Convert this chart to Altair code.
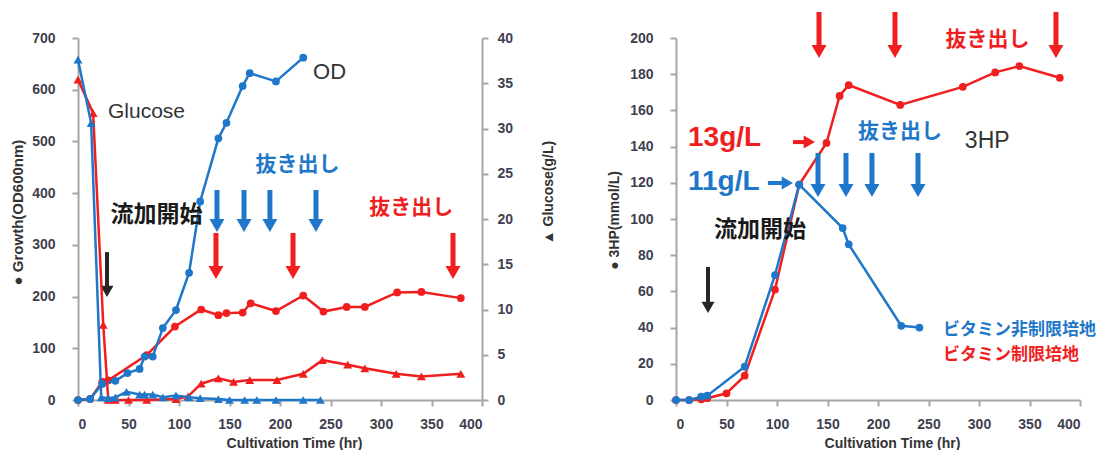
import altair as alt
import pandas as pd

# ---------------- data ----------------
# Left panel: growth (OD600nm), left axis
od_nonres_time = [0, 12, 24, 37, 49, 61, 66, 74, 84, 97, 110, 121, 139, 147, 163, 170, 196, 223]
od_nonres_val = [0, 2, 31, 37, 52, 60, 84, 84, 139, 174, 246, 384, 506, 536, 607, 632, 616, 662]
od_res_time = [0, 12, 24, 30, 68, 96, 122, 139, 147, 163, 171, 196, 223, 243, 266, 284, 316, 340, 379]
od_res_val = [0, 2, 35, 38, 87, 142, 175, 164, 168, 169, 187, 172, 202, 171, 180, 180, 208, 209, 197]
# Left panel: glucose (g/L), right axis
glc_nonres_time = [0, 13, 23, 30, 37, 48, 61, 66, 74, 84, 97, 110, 121, 139, 150, 165, 177, 196, 223, 240]
glc_nonres_val = [37.6, 30.6, 0.3, 0.2, 0.3, 0.9, 0.6, 0.6, 0.6, 0.3, 0.5, 0.3, 0.2, 0.1, 0, 0, 0, 0, 0, 0]
glc_res_time = [0, 15, 25, 30, 37, 50, 68, 97, 109, 122, 139, 154, 170, 197, 223, 242, 267, 284, 315, 340, 379]
glc_res_val = [35.4, 31.7, 8.3, 0, 0, 0, 0, 0.1, 0.4, 1.8, 2.4, 2.0, 2.2, 2.2, 2.9, 4.4, 3.9, 3.5, 2.9, 2.6, 2.9]
# Right panel: 3HP (mmol/L)
hp_nonres_time = [0, 13, 25, 31, 68, 98, 122, 165, 171, 223, 241]
hp_nonres_val = [0, 0, 1.8, 2.4, 18.4, 69, 119, 95, 86, 41, 40]
hp_res_time = [0, 13, 25, 31, 50, 68, 98, 122, 149, 162, 171, 222, 284, 316, 340, 380]
hp_res_val = [0, 0, 0.4, 1, 3.7, 13.4, 61, 119, 142, 168, 174, 163, 173, 181, 184.5, 178]

# ---------------- annotations (data units of each panel) ----------------
L_blue_arrow_t = [137.6, 164.4, 190.0, 235.6]
L_blue_arrow_top, L_blue_arrow_tip = 406, 325
L_red_arrow_t = [136.6, 212.9, 371.3]
L_red_arrow_top, L_red_arrow_tip = 323, 234
L_black_arrow_t = [28.7]
L_black_arrow_top, L_black_arrow_tip = 286, 199

R_red_arrow_t = [141.6, 216.8, 376.2]
R_red_arrow_top, R_red_arrow_tip = 214.4, 189
R_blue_arrow_t = [140.6, 168.3, 194.0, 239.6]
R_blue_arrow_top, R_blue_arrow_tip = 136.5, 112.2
R_black_arrow_t = [31.7]
R_black_arrow_top, R_black_arrow_tip = 73.5, 48
R_red_harrow = (115.8, 137.6, 142.5)
R_blue_harrow = (91.0, 115.8, 119.9)

FONT = "Liberation Sans"
JP = "Noto Sans CJK JP"
BLUE = "#1f77c9"
RED = "#f01e1e"
DARK = "#262626"
GRAY = "#a6a6a6"

PW, PH = 404, 362


def mk_axis(**kw):
    d = dict(grid=False, domainColor=GRAY, domainWidth=2, tickColor=GRAY, tickWidth=2, tickSize=6,
             labelFont=FONT, labelFontWeight="bold", labelFontSize=14, labelColor="#3f3f4f",
             titleFont=FONT, titleFontWeight="bold", titleColor="#333333",
             titleAlign="center", titleBaseline="middle")
    d.update(kw)
    return alt.Axis(**d)


xs = alt.Scale(domain=[0, 400], nice=False)
x_axis = mk_axis(values=list(range(0, 401, 50)), title="Cultivation Time (hr)", labelPadding=11,
                 titleFontSize=14, titleX=216, titleY=43, titleAngle=0)

ys_od = alt.Scale(domain=[0, 700], nice=False)
y_od_axis = mk_axis(values=list(range(0, 701, 100)), title="● Growth(OD600nm)", labelPadding=17,
                    titleFontSize=15, titleAngle=270, titleX=-61, titleY=174)
ys_glc = alt.Scale(domain=[0, 40], nice=False)
y_glc_axis = mk_axis(orient="right", values=list(range(0, 41, 5)), title="▲ Glucose(g/L)", labelPadding=9,
                     titleFontSize=14, titleAngle=270, titleX=66, titleY=154)
ys_hp = alt.Scale(domain=[0, 200], nice=False)
y_hp_axis = mk_axis(values=list(range(0, 201, 20)), title="● 3HP(mmol/L)", labelPadding=17,
                    titleFontSize=14, titleAngle=270, titleX=-62, titleY=182)


def series(ts, vs, color, shape, size, ys, yax):
    df = pd.DataFrame({"t": ts, "v": vs})
    return alt.Chart(df).mark_line(
        color=color, strokeWidth=2.5,
        point=alt.OverlayMarkDef(filled=True, shape=shape, size=size, color=color, opacity=1)
    ).encode(x=alt.X("t:Q", scale=xs, axis=x_axis), y=alt.Y("v:Q", scale=ys, axis=yax))


def varrows(ts, top, tip, color, ys, yax, shaft=5, head=15):
    df = pd.DataFrame({"t": ts, "top": [top] * len(ts), "tip": [tip] * len(ts)})
    b = alt.Chart(df)
    s = b.mark_rule(color=color, strokeWidth=shaft, y2Offset=-head * 0.5).encode(
        x=alt.X("t:Q", scale=xs, axis=x_axis), y=alt.Y("top:Q", scale=ys, axis=yax), y2="tip:Q")
    h = b.mark_point(shape="triangle-down", filled=True, opacity=1, size=head * head, color=color,
                     yOffset=-head * 0.433).encode(
        x=alt.X("t:Q", scale=xs, axis=x_axis), y=alt.Y("tip:Q", scale=ys, axis=yax))
    return [s, h]


def harrow(spec, color, ys, yax, shaft=4, head=13):
    x0, x1, yv = spec
    df = pd.DataFrame({"x0": [x0], "x1": [x1], "y": [yv]})
    b = alt.Chart(df)
    s = b.mark_rule(color=color, strokeWidth=shaft, x2Offset=-head * 0.5).encode(
        x=alt.X("x0:Q", scale=xs, axis=x_axis), x2="x1:Q", y=alt.Y("y:Q", scale=ys, axis=yax))
    h = b.mark_point(shape="triangle-right", filled=True, opacity=1, size=head * head, color=color,
                     xOffset=-head * 0.433).encode(
        x=alt.X("x1:Q", scale=xs, axis=x_axis), y=alt.Y("y:Q", scale=ys, axis=yax))
    return [s, h]


def label(txt, tx, ty, color, size, ys, yax, font=FONT, weight="normal", align="left"):
    df = pd.DataFrame({"t": [tx], "v": [ty], "txt": [txt]})
    return alt.Chart(df).mark_text(color=color, fontSize=size, font=font, fontWeight=weight,
                                   align=align, baseline="middle").encode(
        x=alt.X("t:Q", scale=xs, axis=x_axis), y=alt.Y("v:Q", scale=ys, axis=yax), text="txt:N")


# ---------------- left panel ----------------
left_main = alt.layer(
    series(od_res_time, od_res_val, RED, "circle", 60, ys_od, y_od_axis),
    series(od_nonres_time, od_nonres_val, BLUE, "circle", 60, ys_od, y_od_axis),
    label("Glucose", 29.7, 557, "#333333", 21, ys_od, y_od_axis),
    label("OD", 232.7, 634, "#333333", 22, ys_od, y_od_axis),
    label("抜き出し", 217.3, 454, BLUE, 21, ys_od, y_od_axis, font=JP, weight="bold", align="center"),
    label("抜き出し", 330.0, 371, RED, 21, ys_od, y_od_axis, font=JP, weight="bold", align="center"),
    label("流加開始", 77.7, 358, "#1a1a1a", 23, ys_od, y_od_axis, font=JP, weight="bold", align="center"),
    *varrows(L_blue_arrow_t, L_blue_arrow_top, L_blue_arrow_tip, BLUE, ys_od, y_od_axis),
    *varrows(L_red_arrow_t, L_red_arrow_top, L_red_arrow_tip, RED, ys_od, y_od_axis),
    *varrows(L_black_arrow_t, L_black_arrow_top, L_black_arrow_tip, DARK, ys_od, y_od_axis, shaft=4, head=13),
)
left_glc = alt.layer(
    series(glc_res_time, glc_res_val, RED, "triangle-up", 80, ys_glc, y_glc_axis),
    series(glc_nonres_time, glc_nonres_val, BLUE, "triangle-up", 80, ys_glc, y_glc_axis),
)
left = alt.layer(left_main, left_glc).resolve_scale(y="independent").properties(width=PW, height=PH)

# ---------------- right panel ----------------
right = alt.layer(
    series(hp_res_time, hp_res_val, RED, "circle", 60, ys_hp, y_hp_axis),
    series(hp_nonres_time, hp_nonres_val, BLUE, "circle", 60, ys_hp, y_hp_axis),
    label("13g/L", 11.9, 144.8, RED, 28, ys_hp, y_hp_axis, weight="bold"),
    label("11g/L", 11.9, 120.4, BLUE, 28, ys_hp, y_hp_axis, weight="bold"),
    label("抜き出し", 221.8, 148, BLUE, 21, ys_hp, y_hp_axis, font=JP, weight="bold", align="center"),
    label("抜き出し", 308.4, 199, RED, 21, ys_hp, y_hp_axis, font=JP, weight="bold", align="center"),
    label("3HP", 286, 143, "#333333", 23, ys_hp, y_hp_axis),
    label("流加開始", 83.2, 94, "#1a1a1a", 23, ys_hp, y_hp_axis, font=JP, weight="bold", align="center"),
    label("ビタミン非制限培地", 264.4, 38.7, BLUE, 17, ys_hp, y_hp_axis, font=JP, weight="bold"),
    label("ビタミン制限培地", 264.4, 24.9, RED, 17, ys_hp, y_hp_axis, font=JP, weight="bold"),
    *varrows(R_red_arrow_t, R_red_arrow_top, R_red_arrow_tip, RED, ys_hp, y_hp_axis),
    *varrows(R_blue_arrow_t, R_blue_arrow_top, R_blue_arrow_tip, BLUE, ys_hp, y_hp_axis),
    *varrows(R_black_arrow_t, R_black_arrow_top, R_black_arrow_tip, DARK, ys_hp, y_hp_axis, shaft=4, head=13),
    *harrow(R_red_harrow, RED, ys_hp, y_hp_axis),
    *harrow(R_blue_harrow, BLUE, ys_hp, y_hp_axis),
).properties(width=PW, height=PH)

chart = alt.hconcat(left, right, spacing=52).properties(
    padding={"left": 2, "top": 1, "right": 0, "bottom": 0}
).configure_view(stroke=None)

chart.save("out.html", embed_options={"renderer": "svg", "actions": False})
